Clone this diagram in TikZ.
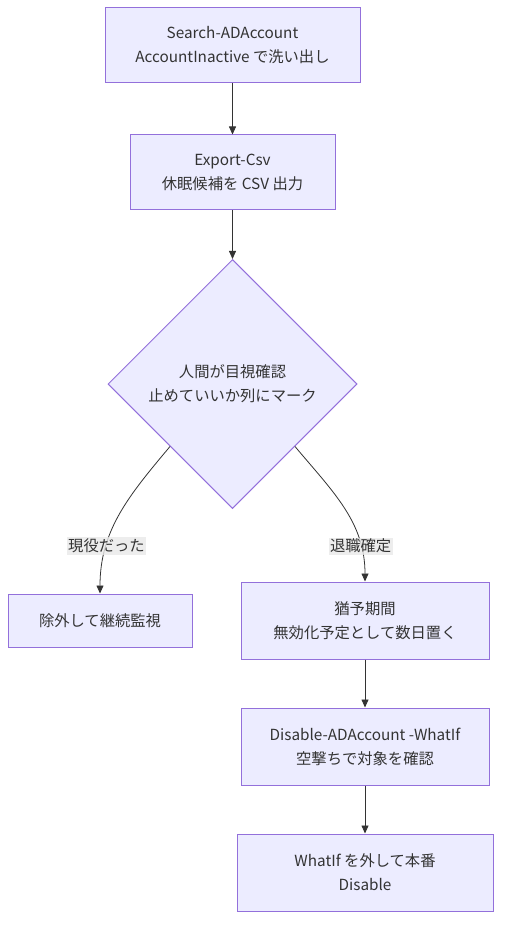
\documentclass[tikz,border=0pt]{standalone}
\usepackage{fontspec}
\setmainfont{Noto Sans CJK JP}
\usetikzlibrary{shapes.geometric,arrows.meta}

\definecolor{boxfill}{HTML}{ECECFF}
\definecolor{boxline}{HTML}{9370DB}
\definecolor{edgeline}{HTML}{333333}
\definecolor{labelbg}{HTML}{E8E8E8}
\definecolor{txt}{HTML}{333333}

\tikzset{
  stepbox/.style={draw=boxline, fill=boxfill, line width=1pt, align=center,
    text=txt, inner sep=0pt},
  checkbox/.style={stepbox, shape=diamond, aspect=1, minimum width=249pt,
    minimum height=249pt},
  flow/.style={draw=edgeline, line width=0.8pt,
    -{Triangle[length=8pt,width=7pt]}},
  elabel/.style={fill=labelbg, fill opacity=0.8, text opacity=1, text=txt,
    inner sep=1.5pt}
}

\begin{document}
\begin{tikzpicture}[x=1pt,y=1pt, font=\fontsize{15.3}{24}\selectfont]
  \useasboundingbox (0,0) rectangle (509,-933);

  % main column
  \node[stepbox, minimum width=255pt, minimum height=75pt] (search) at (232.5,-45.5)
    {Search-ADAccount\\AccountInactive で洗い出し};
  \node[stepbox, minimum width=205pt, minimum height=75pt] (export) at (232.5,-172.5)
    {Export-Csv\\休眠候補を CSV 出力};
  \node[checkbox] (check) at (232.5,-384)
    {人間が目視確認\\止めていいか列にマーク};

  % the two branches
  \node[stepbox, minimum width=184pt, minimum height=53pt] (keep) at (100,-620.5)
    {除外して継続監視};
  \node[stepbox, minimum width=248pt, minimum height=77pt] (grace) at (365,-620.5)
    {猶予期間\\無効化予定として数日置く};
  \node[stepbox, minimum width=248pt, minimum height=77pt] (whatif) at (365,-746.5)
    {Disable-ADAccount -WhatIf\\空撃ちで対象を確認};
  \node[stepbox, minimum width=256pt, minimum height=77pt] (disable) at (365,-872.5)
    {WhatIf を外して本番\\Disable};

  \draw[flow] (search) -- (export);
  \draw[flow] (export) -- (check);
  \draw[flow] (check.south west) to[out=-130, in=90]
    node[elabel, pos=0.72] {現役だった} (keep.north);
  \draw[flow] (check.south east) to[out=-50, in=90]
    node[elabel, pos=0.78] {退職確定} (grace.north);
  \draw[flow] (grace) -- (whatif);
  \draw[flow] (whatif) -- (disable);
\end{tikzpicture}
\end{document}
